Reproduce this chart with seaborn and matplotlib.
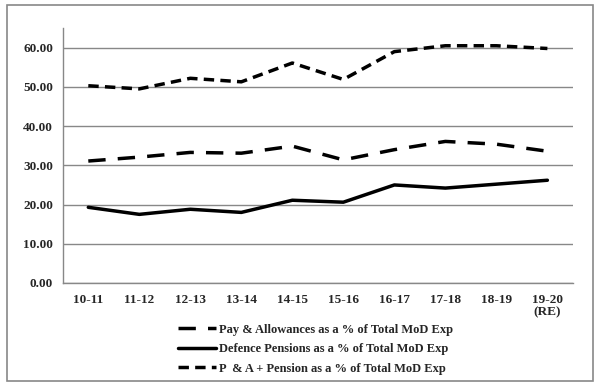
import pandas as pd
import matplotlib.pyplot as plt
import seaborn as sns
from matplotlib.patches import Rectangle

years = ["10-11", "11-12", "12-13", "13-14", "14-15", "15-16", "16-17", "17-18", "18-19", "19-20\n(RE)"]
pay_allow = [31.1, 32.1, 33.3, 33.1, 34.9, 31.4, 34.0, 36.1, 35.4, 33.6]
pensions = [19.3, 17.5, 18.8, 18.0, 21.1, 20.6, 25.0, 24.2, 25.2, 26.2]
pa_pension = [50.3, 49.5, 52.2, 51.3, 56.1, 51.9, 59.0, 60.5, 60.5, 59.8]

labels = ["Pay & Allowances as a % of Total MoD Exp",
          "Defence Pensions as a % of Total MoD Exp",
          "P  & A + Pension as a % of Total MoD Exp"]

df = pd.DataFrame({"Year": years * 3,
                   "Value": pay_allow + pensions + pa_pension,
                   "Series": [labels[0]] * 10 + [labels[1]] * 10 + [labels[2]] * 10})

sns.set_style("white")
plt.rcParams["font.family"] = "serif"
plt.rcParams["font.serif"] = ["Liberation Serif", "DejaVu Serif"]
plt.rcParams["font.weight"] = "bold"

fig = plt.figure(figsize=(5.98, 3.85), dpi=100)
ax = fig.add_axes([0.105, 0.265, 0.853, 0.662])

dashes = {labels[0]: (5, 3.5), labels[1]: "", labels[2]: (3, 1.8)}
sns.lineplot(data=df, x="Year", y="Value", hue="Series", style="Series",
             palette=["black"] * 3, dashes=dashes, linewidth=2.5, sort=False, ax=ax)

ax.set_xlim(-0.5, 9.5)
ax.set_ylim(0, 65)
ax.set_yticks(range(0, 61, 10))
ax.set_yticklabels([f"{v:.2f}" for v in range(0, 61, 10)], fontsize=9.5, fontweight="bold")
ax.set_xticks(range(10))
ax.set_xticklabels(years, fontsize=9.5, fontweight="bold", linespacing=1.0)
ax.set_xticks([i - 0.5 for i in range(11)], minor=True)
ax.tick_params(axis="x", which="major", length=0, pad=8)
ax.tick_params(axis="x", which="minor", length=4, color="#888888", direction="out")
ax.tick_params(axis="y", length=4, color="#888888", direction="out", pad=3)
ax.yaxis.grid(True, color="#888888", linewidth=1)
ax.set_axisbelow(True)
for s in ["top", "right"]:
    ax.spines[s].set_visible(False)
for s in ["left", "bottom"]:
    ax.spines[s].set_color("#888888")
    ax.spines[s].set_linewidth(1)
ax.set_xlabel("")
ax.set_ylabel("")

ax.legend(loc="upper left", bbox_to_anchor=(0.204, -0.115), frameon=False,
          prop={"size": 9, "weight": "bold"}, handlelength=3.0,
          handletextpad=0.25, labelspacing=0.6)

fig.add_artist(Rectangle((0.012, 0.011), 0.98, 0.975, transform=fig.transFigure,
                         fill=False, edgecolor="#888888", linewidth=1.2))

fig.savefig("out.png", dpi=100)
